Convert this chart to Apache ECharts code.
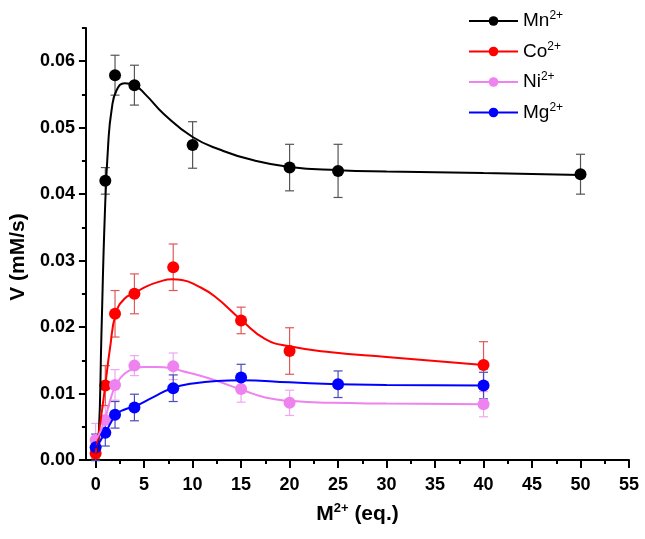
<!DOCTYPE html>
<html>
<head>
<meta charset="utf-8">
<script src="https://cdn.jsdelivr.net/npm/echarts@6/dist/echarts.min.js"></script>
<style>html,body{margin:0;padding:0;background:#fff}#chart{width:645px;height:539px}</style>
</head>
<body>
<div id="chart"></div>
<script>
// ---- data ----
const metals = ['Mn', 'Co', 'Ni', 'Mg'];

const mnDoses  = [1, 2, 4, 10, 20, 25, 50];
const mnRates  = [0.0420, 0.0579, 0.0564, 0.0474, 0.0440, 0.0435, 0.0430];
const mnErrors = [0.0020, 0.0030, 0.0030, 0.0035, 0.0035, 0.0040, 0.0030];
const mnFitX   = [0, 0.3, 0.6, 0.95, 1.3, 1.65, 2.15, 3, 4, 5.2, 7, 10, 13, 16, 20, 25, 30, 40, 50];
const mnFitY   = [0.0010, 0.0030, 0.0190, 0.0370, 0.0476, 0.0527, 0.0556, 0.0567, 0.0564, 0.0549, 0.0521, 0.0486, 0.0466, 0.0452, 0.0441, 0.0436, 0.0434, 0.0432, 0.0429];

const coDoses  = [0, 1, 2, 4, 8, 15, 20, 40];
const coRates  = [0.0010, 0.0112, 0.0220, 0.0250, 0.0290, 0.0210, 0.0164, 0.0143];
const coErrors = [0.0008, 0.0030, 0.0035, 0.0030, 0.0035, 0.0020, 0.0035, 0.0035];
const coFitX   = [0, 0.5, 1, 1.5, 2.1, 3, 4, 5.2, 6.5, 7.9, 8.9, 10.5, 12.3, 15, 17.5, 20, 24.3, 30, 35, 40];
const coFitY   = [0.0010, 0.0058, 0.0113, 0.0170, 0.0221, 0.0243, 0.0251, 0.0261, 0.0268, 0.0272, 0.0271, 0.0262, 0.0246, 0.0211, 0.0182, 0.0171, 0.0162, 0.0155, 0.0149, 0.0143];

const niDoses  = [0, 1, 2, 4, 8, 15, 20, 40];
const niRates  = [0.0030, 0.0060, 0.0113, 0.0142, 0.0141, 0.0107, 0.0086, 0.0084];
const niErrors = [0.0025, 0.0020, 0.0023, 0.0015, 0.0020, 0.0020, 0.0019, 0.0019];
const niFitX   = [0, 0.5, 1, 1.5, 2.1, 3, 4.1, 5, 6.2, 7.9, 8.9, 10.5, 12.3, 15, 17.5, 20, 24.3, 30, 40];
const niFitY   = [0.0030, 0.0043, 0.0063, 0.0090, 0.0113, 0.0130, 0.0138, 0.0140, 0.0140, 0.0138, 0.0134, 0.0128, 0.0120, 0.0106, 0.0094, 0.0089, 0.0086, 0.0085, 0.0084];

const mgDoses  = [0, 1, 2, 4, 8, 15, 25, 40];
const mgRates  = [0.0019, 0.0041, 0.0068, 0.0079, 0.0108, 0.0124, 0.0114, 0.0112];
const mgErrors = [0.0020, 0.0020, 0.0020, 0.0020, 0.0020, 0.0020, 0.0020, 0.0020];
const mgFitX   = [0, 1, 2.1, 3, 4.1, 6, 7.9, 10, 12.5, 15, 20, 25, 30, 40];
const mgFitY   = [0.0018, 0.0041, 0.0068, 0.0076, 0.0081, 0.0095, 0.0108, 0.0115, 0.0119, 0.0120, 0.0117, 0.0114, 0.0113, 0.0112];

const xMajorTicks = [0, 5, 10, 15, 20, 25, 30, 35, 40, 45, 50, 55];
const xMinorTicks = [2.5, 7.5, 12.5, 17.5, 22.5, 27.5, 32.5, 37.5, 42.5, 47.5, 52.5];
const yMajorTicks = [0, 0.01, 0.02, 0.03, 0.04, 0.05, 0.06];
const yMinorTicks = [0.005, 0.015, 0.025, 0.035, 0.045, 0.055, 0.065];

// ---- styles ----
const FONT = 'Liberation Sans, Arial, sans-serif';
const lineColors = { Mn: '#000000', Co: '#ff0000', Ni: '#ee82ee', Mg: '#0000ff' };
const barColors  = { Mn: '#555555', Co: '#dd5a5a', Ni: '#f0a6f0', Mg: '#4a4ab8' };

const sets = {
  Mn: [mnDoses, mnRates, mnErrors, mnFitX, mnFitY],
  Co: [coDoses, coRates, coErrors, coFitX, coFitY],
  Ni: [niDoses, niRates, niErrors, niFitX, niFitY],
  Mg: [mgDoses, mgRates, mgErrors, mgFitX, mgFitY]
};

function zip2(a, b) { return a.map((v, i) => [v, b[i]]); }
function zip3(a, b, c) { return a.map((v, i) => [v, b[i], c[i]]); }

const series = [];
metals.forEach(m => {
  const [dx, dy, de, fx, fy] = sets[m];
  series.push({
    name: m + ' error',
    type: 'custom',
    data: zip3(dx, dy, de),
    renderItem: function (params, api) {
      const x = api.value(0), y = api.value(1), e = api.value(2);
      const top = api.coord([x, y + e]);
      const bot = api.coord([x, y - e]);
      const hw = 4.5;
      const st = { stroke: barColors[m], lineWidth: 1.2 };
      return {
        type: 'group',
        children: [
          { type: 'line', shape: { x1: top[0], y1: top[1], x2: bot[0], y2: bot[1] }, style: st },
          { type: 'line', shape: { x1: top[0] - hw, y1: top[1], x2: top[0] + hw, y2: top[1] }, style: st },
          { type: 'line', shape: { x1: bot[0] - hw, y1: bot[1], x2: bot[0] + hw, y2: bot[1] }, style: st }
        ]
      };
    },
    silent: true
  });
  series.push({
    name: m,
    type: 'line',
    data: zip2(fx, fy),
    showSymbol: false,
    symbol: 'circle',
    smooth: 0.5,
    lineStyle: { color: lineColors[m], width: 2 },
    itemStyle: { color: lineColors[m] },
    silent: true
  });
  series.push({
    name: m + ' points',
    type: 'scatter',
    data: zip2(dx, dy),
    symbol: 'circle',
    symbolSize: 12,
    itemStyle: { color: lineColors[m], opacity: 1 },
    silent: true
  });
});

const chart = echarts.init(document.getElementById('chart'), null, { renderer: 'canvas' });
chart.setOption({
  animation: false,
  backgroundColor: '#fff',
  grid: { left: 83, right: 16, top: 28, bottom: 79, containLabel: false },
  legend: {
    data: metals,
    orient: 'vertical',
    left: 468,
    top: 10,
    padding: 0,
    itemWidth: 49,
    itemHeight: 12,
    itemGap: 10,
    selectedMode: false,
    formatter: n => '{b|' + n + '}{s|2+}',
    textStyle: {
      color: '#000',
      fontFamily: FONT,
      fontSize: 19,
      rich: {
        b: { fontFamily: FONT, fontSize: 19, lineHeight: 22, color: '#000' },
        s: { fontFamily: FONT, fontSize: 12, lineHeight: 12, verticalAlign: 'top', color: '#000' }
      }
    }
  },
  xAxis: [
    {
      type: 'value', min: -1, max: 55, position: 'bottom',
      name: '{b|M}{s|2+}{b| (eq.)}',
      nameLocation: 'middle', nameGap: 42,
      nameTextStyle: {
        rich: {
          b: { fontFamily: FONT, fontSize: 21, fontWeight: 'bold', lineHeight: 24, color: '#000' },
          s: { fontFamily: FONT, fontSize: 13, fontWeight: 'bold', lineHeight: 12, verticalAlign: 'top', color: '#000' }
        }
      },
      axisLine: { show: true, onZero: false, lineStyle: { color: '#000', width: 2 } },
      axisTick: { show: true, customValues: xMajorTicks, length: 8, lineStyle: { color: '#000', width: 2 } },
      axisLabel: { customValues: xMajorTicks, margin: 16, color: '#000', fontFamily: FONT, fontSize: 18, fontWeight: 'bold' },
      splitLine: { show: false }
    },
    {
      type: 'value', min: -1, max: 55, position: 'bottom',
      axisLine: { show: false, onZero: false },
      axisTick: { show: true, customValues: xMinorTicks, length: 4, lineStyle: { color: '#000', width: 2 } },
      axisLabel: { show: false },
      splitLine: { show: false }
    }
  ],
  yAxis: [
    {
      type: 'value', min: 0, max: 0.065, position: 'left',
      name: 'V (mM/s)',
      nameLocation: 'middle', nameGap: 56,
      nameTextStyle: { fontFamily: FONT, fontSize: 21, fontWeight: 'bold', color: '#000', padding: [0, 26, 0, 0] },
      axisLine: { show: true, onZero: false, lineStyle: { color: '#000', width: 2 } },
      axisTick: { show: true, customValues: yMajorTicks, length: 7, lineStyle: { color: '#000', width: 2 } },
      axisLabel: { customValues: yMajorTicks, margin: 11, color: '#000', fontFamily: FONT, fontSize: 18, fontWeight: 'bold', formatter: v => v.toFixed(2) },
      splitLine: { show: false }
    },
    {
      type: 'value', min: 0, max: 0.065, position: 'left',
      axisLine: { show: false, onZero: false },
      axisTick: { show: true, customValues: yMinorTicks, length: 4, lineStyle: { color: '#000', width: 2 } },
      axisLabel: { show: false },
      splitLine: { show: false }
    }
  ],
  series: series
});
</script>
</body>
</html>
